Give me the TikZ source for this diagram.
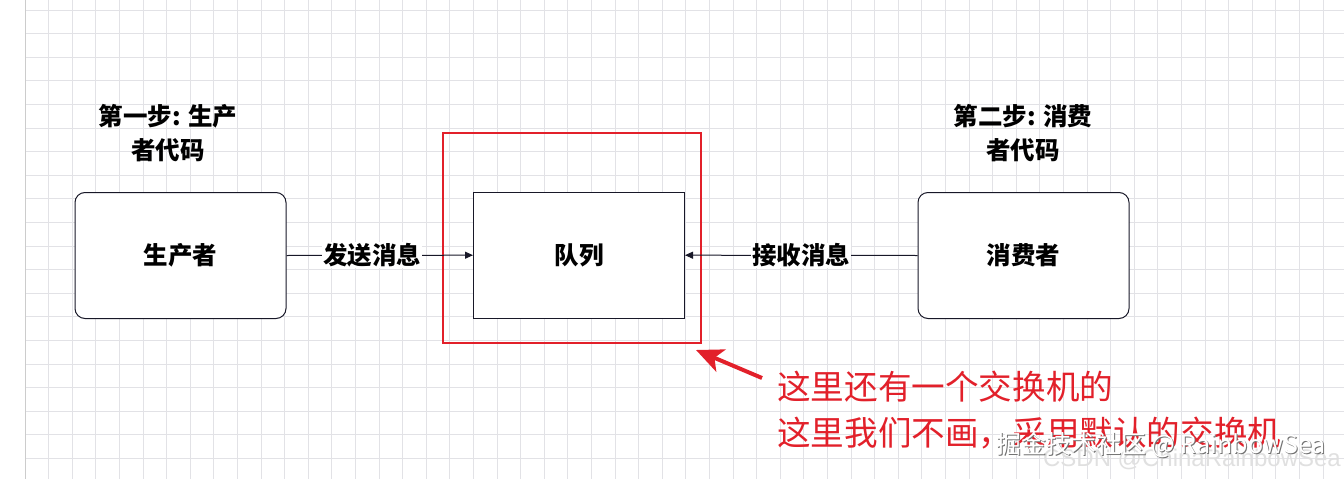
\documentclass[tikz,border=0pt]{standalone}
\usepackage{fontspec}
\newfontfamily\cjk{Noto Sans CJK SC}
\setmainfont{Liberation Sans}
\usetikzlibrary{arrows.meta}
\definecolor{redc}{RGB}{226,32,42}
\definecolor{gridc}{RGB}{226,226,230}
\definecolor{edgec}{RGB}{24,24,40}
\tikzset{
  box/.style={draw=edgec, line width=1pt, fill=white, minimum width=211pt, minimum height=126pt,
    font=\cjk\bfseries\fontsize{24.5}{30}\selectfont, inner sep=0pt},
  conn/.style={draw=edgec, line width=1pt, -{Triangle[length=8pt,width=7pt]}},
  lbl/.style={fill=white, inner sep=1pt, font=\cjk\bfseries\fontsize{24.5}{30}\selectfont},
  ttl/.style={align=center, font=\cjk\bfseries\fontsize{24.5}{34}\selectfont, inner sep=0pt},
}
\begin{document}
\begin{tikzpicture}[x=1pt,y=-1pt]
\useasboundingbox (0,0) rectangle (1344,479);
\fill[white] (0,0) rectangle (1344,479);
% grid
\foreach \k in {0,...,55} \draw[gridc, line width=1pt] ({25+23.6*\k},0) -- ({25+23.6*\k},479);
\foreach \k in {0,...,19} \draw[gridc, line width=1pt] (25,{10+23.6*\k}) -- (1344,{10+23.6*\k});
\draw[black!20, line width=1pt] (25,0) -- (25,479);
% titles
\node[ttl] (t1) at (168,133) {第一步: 生产\\者代码};
\node[ttl] (t2) at (1023,133) {第二步: 消费\\者代码};
% boxes
\node[box, rounded corners=10pt] (prod) at (180.5,255.5) {生产者};
\node[box] (queue) at (579,255.2) {队列};
\node[box, rounded corners=10pt] (cons) at (1023.5,255.5) {消费者};
% exchange highlight
\node[draw=redc, line width=2pt, minimum width=257.5pt, minimum height=210pt, inner sep=0pt] (exch) at (572.2,237.7) {};
% connectors
\draw[conn] (prod.east) -- node[lbl, pos=0.46] (l1) {发送消息} (queue.west);
\draw[conn] (cons.west) -- node[lbl, pos=0.5] (l2) {接收消息} (queue.east);
% note
\node[anchor=west, text=redc, align=left, inner sep=0pt, font=\cjk\fontsize{33.6}{46}\selectfont] (note) at (777,410) {这里还有一个交换机的\\这里我们不画，采用默认的交换机};
\coordinate (tail) at (762,378);
\coordinate (tip) at (696,350);
\draw[redc, line width=4pt, -{Stealth[length=27pt,width=24pt,inset=7pt]}] (tail) -- (tip);
% watermark
\node[text=black!12, font=\fontsize{24}{26}\selectfont, inner sep=0pt] (wm2) at (1192,459) {CSDN @ChinaRainbowSea};
\node[text=black!55, font=\cjk\fontsize{25}{28}\selectfont, inner sep=0pt] (wm1s) at (1162,446) {掘金技术社区 @ RainbowSea};
\node[text=white, font=\cjk\fontsize{25}{28}\selectfont, inner sep=0pt] (wm1) at (1161,445) {掘金技术社区 @ RainbowSea};
\end{tikzpicture}
\end{document}
